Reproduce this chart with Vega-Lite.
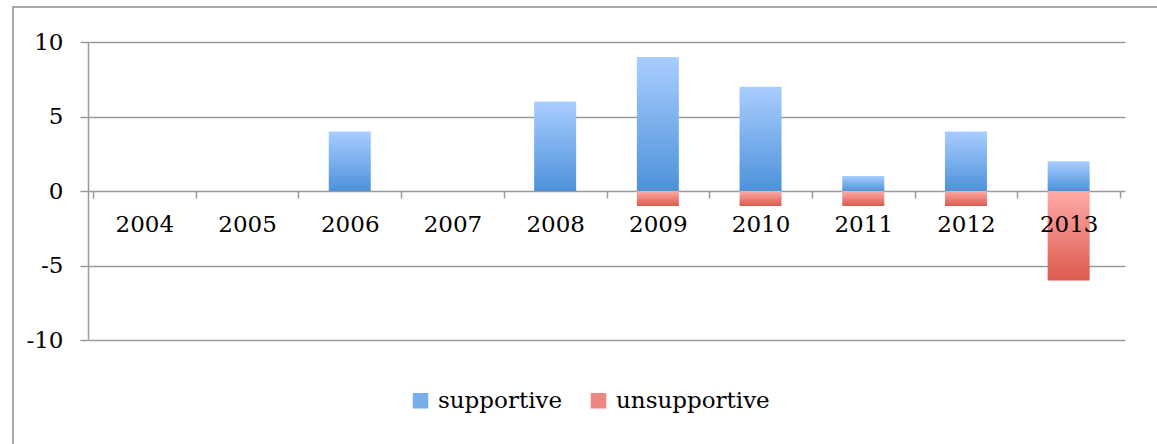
{
  "$schema": "https://vega.github.io/schema/vega-lite/v6.json",
  "autosize": {"type": "none"},
  "padding": {"left": 88, "top": 42, "right": 32, "bottom": 104},
  "width": 1037,
  "height": 298,
  "background": "white",
  "config": {"view": {"stroke": null}, "font": "DejaVu Serif"},
  "data": {
    "values": [
      {"year": 2004, "series": "supportive", "value": 0},
      {"year": 2005, "series": "supportive", "value": 0},
      {"year": 2006, "series": "supportive", "value": 4},
      {"year": 2007, "series": "supportive", "value": 0},
      {"year": 2008, "series": "supportive", "value": 6},
      {"year": 2009, "series": "supportive", "value": 9},
      {"year": 2010, "series": "supportive", "value": 7},
      {"year": 2011, "series": "supportive", "value": 1},
      {"year": 2012, "series": "supportive", "value": 4},
      {"year": 2013, "series": "supportive", "value": 2},
      {"year": 2004, "series": "unsupportive", "value": 0},
      {"year": 2005, "series": "unsupportive", "value": 0},
      {"year": 2006, "series": "unsupportive", "value": 0},
      {"year": 2007, "series": "unsupportive", "value": 0},
      {"year": 2008, "series": "unsupportive", "value": 0},
      {"year": 2009, "series": "unsupportive", "value": -1},
      {"year": 2010, "series": "unsupportive", "value": -1},
      {"year": 2011, "series": "unsupportive", "value": -1},
      {"year": 2012, "series": "unsupportive", "value": -1},
      {"year": 2013, "series": "unsupportive", "value": -6}
    ]
  },
  "encoding": {
    "x": {
      "field": "year",
      "type": "quantitative",
      "scale": {"domain": [2003.5, 2013.5], "nice": false, "zero": false},
      "axis": {
        "title": null,
        "orient": "bottom",
        "offset": -149,
        "zindex": 1,
        "values": [2003.5, 2004, 2004.5, 2005, 2005.5, 2006, 2006.5, 2007, 2007.5, 2008, 2008.5, 2009, 2009.5, 2010, 2010.5, 2011, 2011.5, 2012, 2012.5, 2013, 2013.5],
        "labelExpr": "datum.value % 1 === 0 ? '' + datum.value : ''",
        "labelOverlap": false,
        "labelFlush": false,
        "labelFont": "DejaVu Serif",
        "labelFontSize": 23,
        "labelColor": "#000000",
        "labelPadding": 15,
        "tickSize": 7,
        "tickWidth": 1.5,
        "tickColor": "#9a9a9a",
        "tickOpacity": {"condition": {"test": "datum.value % 1 !== 0", "value": 1}, "value": 0},
        "domain": false,
        "grid": false
      }
    },
    "y": {
      "field": "value",
      "type": "quantitative",
      "scale": {"domain": [-10, 10], "nice": false},
      "axis": {
        "title": null,
        "values": [-10, -5, 0, 5, 10],
        "labelExpr": "'' + datum.value",
        "grid": true,
        "gridColor": "#9a9a9a",
        "gridWidth": 1.5,
        "domainColor": "#9a9a9a",
        "domainWidth": 1.5,
        "tickColor": "#9a9a9a",
        "tickWidth": 1.5,
        "tickSize": 8,
        "labelPadding": 17,
        "labelFont": "DejaVu Serif",
        "labelFontSize": 23,
        "labelColor": "#000000"
      }
    }
  },
  "layer": [
    {
      "mark": {"type": "rect", "fill": null, "filled": false, "stroke": "#a8a8a8", "strokeWidth": 1.5, "clip": false},
      "encoding": {
        "x": {"datum": 2002.72},
        "x2": {"datum": 2016},
        "y": {"datum": 12.35},
        "y2": {"datum": -25}
      }
    },
    {
      "transform": [{"filter": "datum.series === 'supportive'"}],
      "mark": {
        "type": "bar",
        "size": 42,
        "color": {
          "gradient": "linear", "x1": 0, "y1": 0, "x2": 0, "y2": 1,
          "stops": [{"offset": 0, "color": "#a9cdff"}, {"offset": 1, "color": "#4d92da"}]
        }
      },
      "encoding": {"y": {"field": "value", "type": "quantitative", "stack": null}}
    },
    {
      "transform": [{"filter": "datum.series === 'unsupportive'"}],
      "mark": {
        "type": "bar",
        "size": 42,
        "color": {
          "gradient": "linear", "x1": 0, "y1": 0, "x2": 0, "y2": 1,
          "stops": [{"offset": 0, "color": "#ffaaa6"}, {"offset": 1, "color": "#dc5b4f"}]
        }
      },
      "encoding": {"y": {"field": "value", "type": "quantitative", "stack": null}}
    },
    {
      "mark": {"type": "square", "opacity": 0, "size": 10},
      "encoding": {
        "color": {
          "field": "series",
          "type": "nominal",
          "scale": {"domain": ["supportive", "unsupportive"], "range": ["#78aeea", "#ee8780"]},
          "legend": {
            "title": null,
            "orient": "none",
            "direction": "horizontal",
            "legendX": 321,
            "legendY": 347,
            "symbolType": "square",
            "symbolSize": 240,
            "symbolOpacity": 1,
            "symbolStrokeWidth": 0,
            "labelFont": "DejaVu Serif",
            "labelFontSize": 23,
            "labelColor": "#000000",
            "labelOffset": 6,
            "columnPadding": 24
          }
        }
      }
    }
  ]
}
